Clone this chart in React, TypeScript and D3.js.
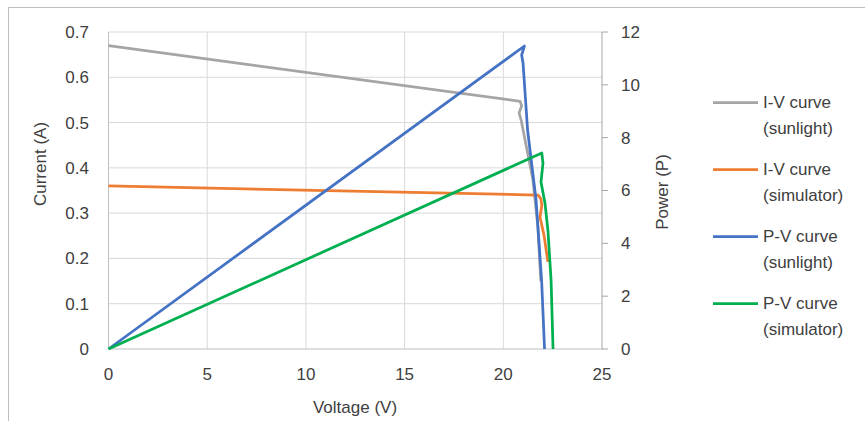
import React from 'react';
import * as d3 from 'd3';

// values: voltage (V) with current (A) or power (W)
const ivSunV = [0, 20.85, 20.93, 20.8, 20.9, 21.2, 21.5, 21.75, 21.9];
const ivSunI = [0.67, 0.547, 0.537, 0.521, 0.506, 0.44, 0.373, 0.27, 0.15];

const ivSimV = [0, 21.76, 21.9, 21.95, 21.86, 22.06, 22.26];
const ivSimI = [0.36, 0.34, 0.332, 0.318, 0.291, 0.252, 0.192];

const pvSunV = [0, 21.07, 20.93, 21.0, 21.23, 21.66, 21.94, 22.09];
const pvSunP = [0, 11.47, 11.13, 10.83, 8.29, 5.64, 2.61, 0];

const pvSimV = [0, 21.95, 22.01, 21.91, 22.11, 22.26, 22.42, 22.52];
const pvSimP = [0, 7.42, 7.04, 6.32, 5.53, 4.5, 2.61, 0];

const xTicks = [0, 5, 10, 15, 20, 25];
const yLeftTicks = [0, 0.1, 0.2, 0.3, 0.4, 0.5, 0.6, 0.7];
const yRightTicks = [0, 2, 4, 6, 8, 10, 12];

const legendLabels = [
  ['I-V curve', '(sunlight)'],
  ['I-V curve', '(simulator)'],
  ['P-V curve', '(sunlight)'],
  ['P-V curve', '(simulator)'],
];
const colors = ['#A5A5A5', '#ED7D31', '#4472C4', '#00B050'];

const font = "'Liberation Sans', Arial, sans-serif";
const fs = 17;

export default function App() {
  const x = d3.scaleLinear().domain([0, 25]).range([108.5, 602]);
  const yL = d3.scaleLinear().domain([0, 0.7]).range([349, 32]);
  const yR = d3.scaleLinear().domain([0, 12]).range([349, 32]);

  const zip = (a: number[], b: number[]) => a.map((v, i) => [v, b[i]] as [number, number]);

  const lineL = d3
    .line<[number, number]>()
    .x(d => x(d[0]))
    .y(d => yL(d[1]));
  const lineR = d3
    .line<[number, number]>()
    .x(d => x(d[0]))
    .y(d => yR(d[1]));

  const series = [
    lineL(zip(ivSunV, ivSunI)),
    lineL(zip(ivSimV, ivSimI)),
    lineR(zip(pvSunV, pvSunP)),
    lineR(zip(pvSimV, pvSimP)),
  ];

  return (
    <svg
      width={865}
      height={421}
      style={{ position: 'absolute', left: 0, top: 0, background: '#fff' }}
      fontFamily={font}
    >
      {/* frame */}
      <line x1={8} x2={865} y1={7.5} y2={7.5} stroke="#bfbfbf" />
      <line x1={8.5} x2={8.5} y1={7} y2={421} stroke="#bfbfbf" />

      {/* grid */}
      {yLeftTicks.slice(1).map(t => (
        <line key={'h' + t} x1={x(0)} x2={x(25)} y1={yL(t)} y2={yL(t)} stroke="#d9d9d9" />
      ))}
      {xTicks.slice(1, -1).map(t => (
        <line key={'v' + t} x1={x(t)} x2={x(t)} y1={yL(0.7)} y2={yL(0)} stroke="#d9d9d9" />
      ))}

      {/* axes */}
      <line x1={x(0)} x2={x(0)} y1={yL(0.7)} y2={yL(0)} stroke="#bfbfbf" />
      <line x1={x(0)} x2={x(25) + 1} y1={yL(0)} y2={yL(0)} stroke="#bfbfbf" />
      <line x1={x(25)} x2={x(25)} y1={yR(12)} y2={yR(0)} stroke="#a6a6a6" />
      {yRightTicks.map(t => (
        <line key={'rt' + t} x1={x(25)} x2={x(25) + 6} y1={yR(t)} y2={yR(t)} stroke="#a6a6a6" />
      ))}

      {/* tick labels */}
      {yLeftTicks.map(t => (
        <text key={'yl' + t} x={89} y={yL(t)} dy="0.35em" textAnchor="end" fontSize={fs} fill="#404040">
          {t === 0 ? '0' : d3.format('.1f')(t)}
        </text>
      ))}
      {yRightTicks.map(t => (
        <text key={'yr' + t} x={621} y={yR(t)} dy="0.35em" textAnchor="start" fontSize={fs} fill="#404040">
          {t}
        </text>
      ))}
      {xTicks.map(t => (
        <text key={'x' + t} x={x(t)} y={374} dy="0.35em" textAnchor="middle" fontSize={fs} fill="#404040">
          {t}
        </text>
      ))}

      {/* axis titles */}
      <text x={355} y={407} dy="0.35em" textAnchor="middle" fontSize={fs} fill="#404040">
        Voltage (V)
      </text>
      <text transform="translate(40,164) rotate(-90)" dy="0.35em" textAnchor="middle" fontSize={fs} fill="#404040">
        Current (A)
      </text>
      <text transform="translate(662,192) rotate(-90)" dy="0.35em" textAnchor="middle" fontSize={fs} fill="#404040">
        Power (P)
      </text>

      {/* series */}
      {series.map((d, i) => (
        <path key={'s' + i} d={d || ''} fill="none" stroke={colors[i]} strokeWidth={2.75} strokeLinejoin="round" />
      ))}

      {/* legend */}
      {legendLabels.map((lab, i) => {
        const cy = 102.5 + i * 67;
        return (
          <g key={'lg' + i}>
            <line x1={713} x2={758} y1={cy} y2={cy} stroke={colors[i]} strokeWidth={2.75} />
            <text x={763} y={cy} dy="0.35em" fontSize={fs} fill="#404040">
              {lab[0]}
            </text>
            <text x={763} y={cy + 26} dy="0.35em" fontSize={fs} fill="#404040">
              {lab[1]}
            </text>
          </g>
        );
      })}
    </svg>
  );
}
